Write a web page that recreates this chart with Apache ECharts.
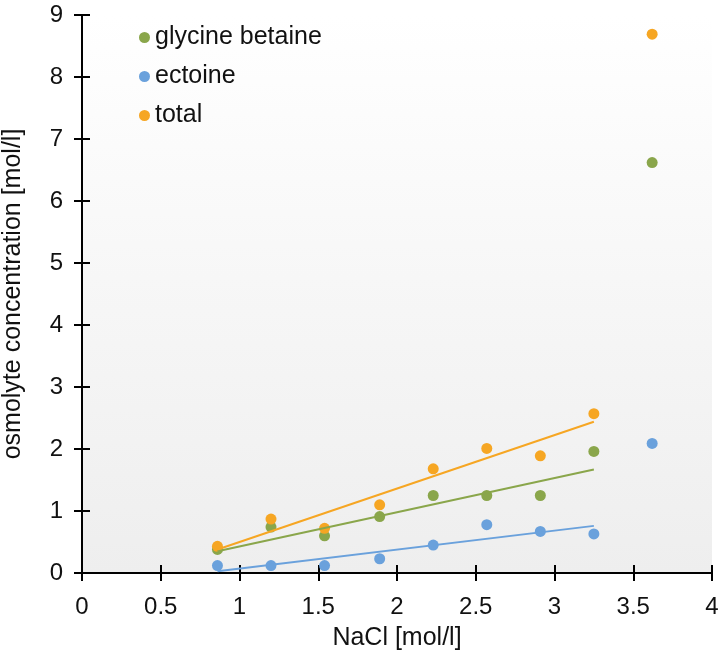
<!DOCTYPE html>
<html><head><meta charset="utf-8">
<script src="https://cdn.jsdelivr.net/npm/echarts@6/dist/echarts.min.js"></script>
<style>html,body{margin:0;padding:0;background:#fff}#c{width:722px;height:658px}</style>
</head><body><div id="c"></div>
<script>
const nacl = [0.86, 1.2, 1.54, 1.89, 2.23, 2.57, 2.91, 3.25, 3.62];
const glycineBetaine = [0.38, 0.74, 0.60, 0.91, 1.25, 1.25, 1.25, 1.96, 6.62];
const ectoine = [0.12, 0.12, 0.12, 0.23, 0.45, 0.78, 0.67, 0.63, 2.09];
const total = [0.43, 0.87, 0.72, 1.10, 1.68, 2.01, 1.89, 2.57, 8.69];
const trendX = [0.86, 3.25];
const trendGlycine = [0.35, 1.67];
const trendEctoine = [0.03, 0.76];
const trendTotal = [0.38, 2.44];

const cGreen = '#8aa64b', cBlue = '#6aa1dc', cOrange = '#f6a623';
const pts = (xs, ys) => xs.map((x, i) => [x, ys[i]]);
const font = 'Liberation Sans, Arial, sans-serif';
const fs = 24, fsT = 25;

const tickStyle = {color: '#000', width: 2};
const chart = echarts.init(document.getElementById('c'));
chart.setOption({
  animation: false,
  grid: {left: 82, right: 10, top: 15, bottom: 85, show: true, borderWidth: 0,
    outerBoundsMode: 'none', containLabel: false,
    backgroundColor: new echarts.graphic.LinearGradient(0, 0, 0, 1, [
      {offset: 0, color: '#ffffff'}, {offset: 1, color: '#eeeeee'}])},
  legend: {
    orient: 'vertical', left: 134, top: 20, itemGap: 14,
    icon: 'circle', itemWidth: 11, itemHeight: 11,
    textStyle: {fontFamily: font, fontSize: fsT, color: '#111'},
    data: ['glycine betaine', 'ectoine', 'total']
  },
  xAxis: [{
    type: 'value', min: 0, max: 4, interval: 0.5, position: 'bottom',
    name: 'NaCl [mol/l]', nameLocation: 'middle', nameGap: 53,
    nameTextStyle: {fontFamily: font, fontSize: fsT, color: '#111'},
    axisLine: {onZero: false, lineStyle: {color: '#000', width: 2}},
    axisTick: {show: true, length: 8, lineStyle: tickStyle},
    axisLabel: {fontFamily: font, fontSize: fs, color: '#111', margin: 22,
      formatter: v => String(v)},
    splitLine: {show: false}
  }, {
    type: 'value', min: 0, max: 4, interval: 0.5, position: 'bottom', offset: 0,
    axisLine: {show: true, onZero: false, lineStyle: {color: '#000', width: 2}},
    axisTick: {show: true, inside: true, length: 8, lineStyle: tickStyle},
    axisLabel: {show: false}, splitLine: {show: false}
  }],
  yAxis: [{
    type: 'value', min: 0, max: 9, interval: 1, position: 'left',
    name: 'osmolyte concentration [mol/l]', nameLocation: 'middle', nameGap: 56,
    nameTextStyle: {fontFamily: font, fontSize: fsT, color: '#111'},
    axisLine: {show: true, onZero: false, lineStyle: {color: '#000', width: 2}},
    axisTick: {show: true, length: 8, lineStyle: tickStyle},
    axisLabel: {fontFamily: font, fontSize: fs, color: '#111', margin: 19},
    splitLine: {show: false}
  }, {
    type: 'value', min: 0, max: 9, interval: 1, position: 'left', offset: 0,
    axisLine: {show: true, onZero: false, lineStyle: {color: '#000', width: 2}},
    axisTick: {show: true, inside: true, length: 8, lineStyle: tickStyle},
    axisLabel: {show: false}, splitLine: {show: false}
  }],
  series: [
    {name: 'glycine betaine', type: 'scatter', symbolSize: 11, itemStyle: {color: cGreen, opacity: 1}, data: pts(nacl, glycineBetaine), z: 3},
    {name: 'ectoine', type: 'scatter', symbolSize: 11, itemStyle: {color: cBlue, opacity: 1}, data: pts(nacl, ectoine), z: 3},
    {name: 'total', type: 'scatter', symbolSize: 11, itemStyle: {color: cOrange, opacity: 1}, data: pts(nacl, total), z: 3},
    {name: 'trend glycine', type: 'line', showSymbol: false, lineStyle: {color: cGreen, width: 2}, data: pts(trendX, trendGlycine), z: 4},
    {name: 'trend ectoine', type: 'line', showSymbol: false, lineStyle: {color: cBlue, width: 2}, data: pts(trendX, trendEctoine), z: 4},
    {name: 'trend total', type: 'line', showSymbol: false, lineStyle: {color: cOrange, width: 2}, data: pts(trendX, trendTotal), z: 4}
  ]
});
</script></body></html>
